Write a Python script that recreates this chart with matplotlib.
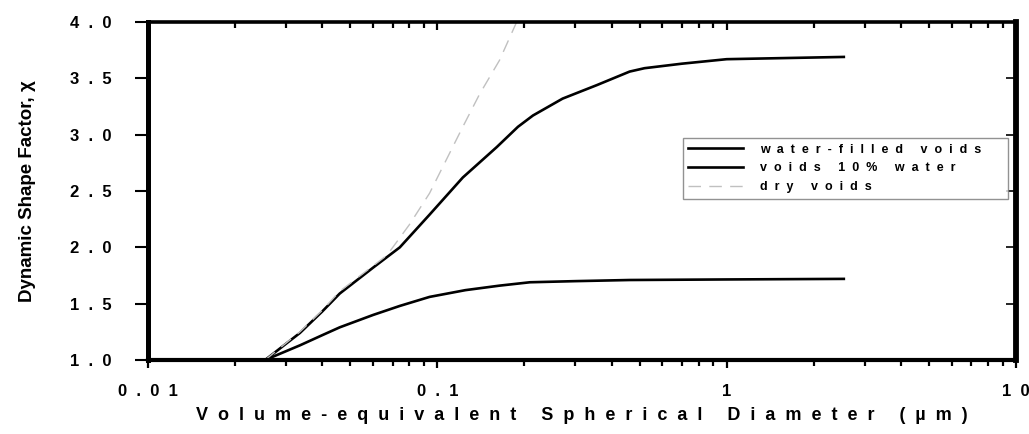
import matplotlib
matplotlib.use("Agg")
import matplotlib.pyplot as plt
from matplotlib.ticker import LogLocator, NullFormatter

plt.rcParams['font.family'] = ['Liberation Sans', 'DejaVu Sans']
plt.rcParams['font.weight'] = 'bold'

# curves
water_x = [0.0254, 0.0335, 0.04, 0.046, 0.06, 0.0742, 0.094, 0.125, 0.164, 0.209, 0.3, 0.462, 1.0, 2.54]
water_y = [1.0, 1.13, 1.22, 1.29, 1.40, 1.48, 1.56, 1.62, 1.66, 1.69, 1.70, 1.71, 1.715, 1.72]

ten_x = [0.0254, 0.0335, 0.04, 0.046, 0.06, 0.0742, 0.094, 0.1225, 0.1605, 0.19, 0.214,
         0.271, 0.356, 0.462, 0.52, 0.7, 1.0, 2.54]
ten_y = [1.0, 1.24, 1.43, 1.59, 1.82, 2.0, 2.29, 2.62, 2.89, 3.07, 3.17,
         3.32, 3.44, 3.56, 3.59, 3.63, 3.67, 3.69]

dry_x = [0.0254, 0.0335, 0.04, 0.046, 0.067, 0.08, 0.094, 0.1225, 0.14, 0.164, 0.188]
dry_y = [1.0, 1.25, 1.44, 1.61, 1.93, 2.2, 2.48, 3.07, 3.36, 3.66, 4.0]

legend_labels = ['water-filled voids', 'voids 10% water', 'dry voids']
xticks = [0.01, 0.1, 1, 10]
xtick_labels = ['0.01', '0.1', '1', '10']
yticks = [1.0, 1.5, 2.0, 2.5, 3.0, 3.5, 4.0]


def spaced(s, gap='  '):
    # the original uses very wide letter spacing
    return gap.join(s)


fig = plt.figure(figsize=(10.29, 4.34), dpi=100)
ax = fig.add_axes([0.1438, 0.1705, 0.8436, 0.7788])

ax.plot(water_x, water_y, color='black', lw=1.9, label=spaced(legend_labels[0]))
ax.plot(ten_x, ten_y, color='black', lw=1.9, label=spaced(legend_labels[1]))
ax.plot(dry_x, dry_y, color='#c0c0c0', lw=1.0, dashes=(9, 6), label=spaced(legend_labels[2]))

ax.set_xscale('log')
ax.set_xlim(0.01, 10)
ax.set_ylim(1.0, 4.0)

ax.set_xticks(xticks, [spaced(t) for t in xtick_labels])
ax.xaxis.set_minor_locator(LogLocator(base=10, subs=range(2, 10)))
ax.xaxis.set_minor_formatter(NullFormatter())
ax.set_yticks(yticks, [spaced(f'{v:.1f}') for v in yticks])

ax.tick_params(axis='x', which='major', direction='out', length=6, width=1.6, labelsize=12, pad=11)
ax.tick_params(axis='x', which='minor', direction='out', length=4, width=1.6)
ax.tick_params(axis='y', which='major', direction='out', length=9.5, width=1.5, labelsize=12, pad=17)
for lab in ax.get_xticklabels() + ax.get_yticklabels():
    lab.set_fontweight('bold')

ax.spines['left'].set_linewidth(3.6)
ax.spines['bottom'].set_linewidth(3.0)
ax.spines['top'].set_linewidth(2.6)
ax.spines['right'].set_linewidth(4.2)

# inward ticks on top and right
top = ax.secondary_xaxis('top')
top.set_xticks(xticks)
top.xaxis.set_minor_locator(LogLocator(base=10, subs=range(2, 10)))
top.xaxis.set_major_formatter(NullFormatter())
top.xaxis.set_minor_formatter(NullFormatter())
top.tick_params(which='major', direction='in', length=6, width=1.6)
top.tick_params(which='minor', direction='in', length=4, width=1.6)
top.spines['top'].set_visible(False)

right = ax.secondary_yaxis('right')
right.set_yticks(yticks)
right.yaxis.set_major_formatter(NullFormatter())
right.tick_params(direction='in', length=7, width=1.2)
right.spines['right'].set_visible(False)

ax.set_xlabel(spaced('Volume-equivalent Spherical Diameter (µm)'), fontsize=13,
              fontweight='bold', labelpad=6)
ax.set_ylabel('Dynamic Shape Factor, χ', fontsize=13.5, fontweight='bold', labelpad=24)

leg = ax.legend(loc='upper left', bbox_to_anchor=(0.616, 0.464, 0.375, 0.193),
                mode='expand', fontsize=9, frameon=True, fancybox=False,
                handlelength=4.4, handletextpad=1.3, labelspacing=0.55,
                borderpad=0.45, borderaxespad=0)
leg.get_frame().set_edgecolor('#777777')
leg.get_frame().set_linewidth(1.0)
for t in leg.get_texts():
    t.set_fontweight('bold')

fig.savefig('out.png', dpi=100)
